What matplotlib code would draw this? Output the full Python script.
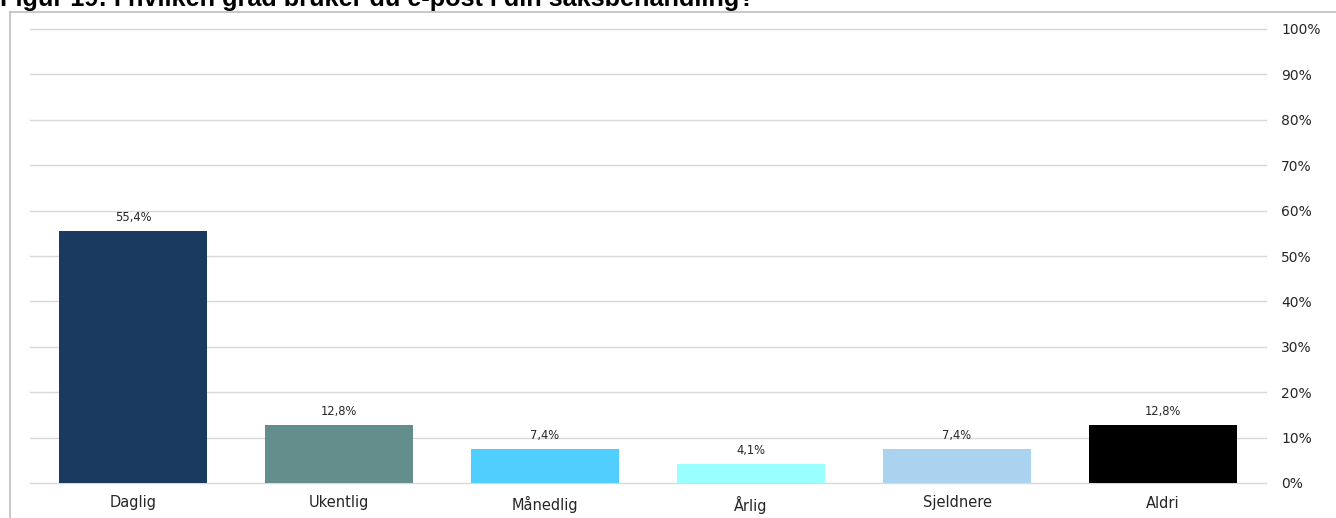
import matplotlib.pyplot as plt
from matplotlib.lines import Line2D

categories = ["Daglig", "Ukentlig", "Månedlig", "Årlig", "Sjeldnere", "Aldri"]
values = [55.4, 12.8, 7.4, 4.1, 7.4, 12.8]
colors = ["#1a3a5f", "#648e8b", "#50cfff", "#99ffff", "#a9d3ee", "#000000"]
yticks = [0, 10, 20, 30, 40, 50, 60, 70, 80, 90, 100]

W, H = 1336, 518
fig = plt.figure(figsize=(W / 100, H / 100), dpi=100)

# plot area, set in pixels
ax = fig.add_axes([30 / W, (H - 483) / H, (1266 - 30) / W, (483 - 29) / H])

x = range(len(categories))
bars = ax.bar(x, values, width=0.714, color=colors, zorder=3)
for b, v in zip(bars, values):
    ax.text(b.get_x() + b.get_width() / 2, v + 1.6, f"{v:.1f}%".replace(".", ","),
            ha="center", va="bottom", fontsize=8.3, color="#262626")

ax.set_xlim(-0.5, len(categories) - 0.5)
ax.set_ylim(0, 100)
ax.set_yticks(yticks)
ax.set_yticklabels([f"{t}%" for t in yticks])
ax.yaxis.tick_right()
ax.set_xticks(list(x))
ax.set_xticklabels(categories)
ax.tick_params(axis="both", length=0, labelsize=10.5, colors="#262626")
ax.tick_params(axis="y", labelsize=10, pad=11)
ax.tick_params(axis="x", pad=9)
ax.grid(axis="y", color="#d9d9d9", linewidth=1, zorder=0)
for gl in ax.get_ygridlines():
    gl.set_clip_on(False)
for s in ax.spines.values():
    s.set_visible(False)

# outer frame
fig.add_artist(Line2D([10 / W, 10 / W], [0, (H - 12) / H], color="#bfbfbf", lw=1.2))
fig.add_artist(Line2D([10 / W, 1], [(H - 12) / H, (H - 12) / H], color="#bfbfbf", lw=1.2))

fig.text(0, 1 - 6 / H, "Figur 19: I hvilken grad bruker du e-post i din saksbehandling?",
         fontsize=18.2, fontweight="bold", family="Liberation Sans", va="baseline", ha="left")

fig.savefig("out.png", dpi=100)
